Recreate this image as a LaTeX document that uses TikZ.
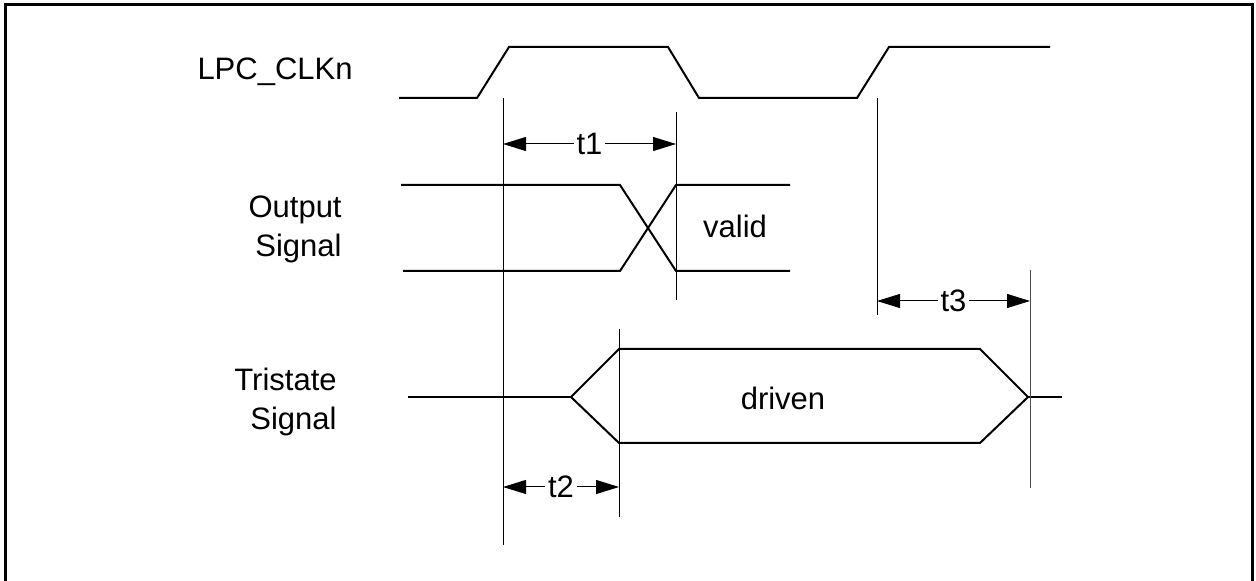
\documentclass[tikz,border=0pt]{standalone}
\usepackage{fontspec}
\setmainfont{Liberation Sans}
\usetikzlibrary{arrows.meta}
\tikzstyle{every node}=[font=\fontsize{15.5}{19.5}\selectfont]
\tikzstyle{wave}=[line width=1pt, line join=miter]
\tikzstyle{guide}=[line width=0.5pt]
\tikzstyle{dim}=[line width=0.5pt, <->]
\tikzstyle{lbl}=[fill=white, inner sep=1.5pt]
\tikzstyle{signame}=[align=right, inner sep=0pt]

\begin{document}
\begin{tikzpicture}[x=0.5pt, y=-0.5pt, >={Triangle[length=11.5pt,width=7pt]}]
    \useasboundingbox (0,0) rectangle (1256,581);
    % frame, open at the bottom
    \draw[line width=1.5pt] (5,581) -- (5,5) -- (1252,5) -- (1252,581);
    % signal names
    \node[anchor=base east, inner sep=0pt] (clkname) at (353,80) {LPC\_CLKn};
    \node[signame, anchor=east] (outname) at (342,229) {Output\\Signal};
    \node[signame, anchor=east] (triname) at (337,402) {Tristate\\Signal};
    % clock
    \draw[wave] (399,98) -- (477,98) -- (509,47) -- (668,47) -- (699,98)
        -- (857,98) -- (889,47) -- (1050,47);
    % output signal
    \draw[wave] (401,185) -- (620,185) -- (676,271) -- (790,271);
    \draw[wave] (403,271) -- (620,271) -- (676,185) -- (790,185);
    \node[anchor=base] (valid) at (735,238) {valid};
    % tristate signal
    \coordinate (tl) at (571,397);
    \coordinate (tr) at (1028,397);
    \draw[wave] (408,397) -- (tl);
    \draw[wave] (tl) -- (619,349) -- (980,349) -- (tr) -- (980,443) -- (619,443) -- cycle;
    \draw[wave] (tr) -- (1062,397);
    \node[anchor=base] (driven) at (783,410) {driven};
    % timing guides
    \coordinate (g1a) at (503,98);  \coordinate (g1b) at (503,545);
    \coordinate (g2a) at (676,112); \coordinate (g2b) at (676,300);
    \coordinate (g3a) at (877,98);  \coordinate (g3b) at (877,315);
    \coordinate (g4a) at (1030,270); \coordinate (g4b) at (1030,488);
    \coordinate (g5a) at (619,329); \coordinate (g5b) at (619,517);
    \draw[guide] (g1a) -- (g1b);
    \draw[guide] (g2a) -- (g2b);
    \draw[guide] (g3a) -- (g3b);
    \draw[guide, black!70] (g4a) -- (g4b);
    \draw[guide] (g5a) -- (g5b);
    % timing arrows
    \draw[dim] (503,144) coordinate (t1l) -- node[lbl] (t1) {t1} (676,144) coordinate (t1r);
    \draw[dim] (503,487) coordinate (t2l) -- node[lbl] (t2) {t2} (619,487) coordinate (t2r);
    \draw[dim] (877,301) coordinate (t3l) -- node[lbl] (t3) {t3} (1030,301) coordinate (t3r);
\end{tikzpicture}
\end{document}
